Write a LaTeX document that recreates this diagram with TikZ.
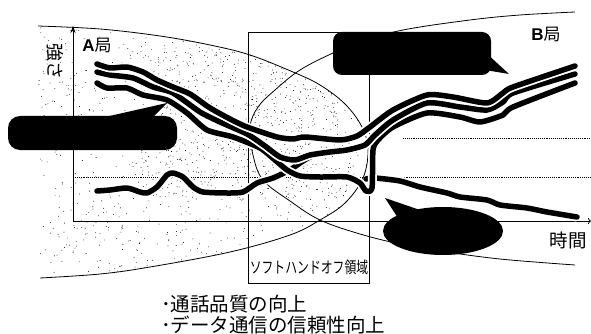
\documentclass[tikz,border=0pt]{standalone}
\usepackage{fontspec}
\setmainfont{Liberation Sans}
\newfontfamily\cjk{Noto Sans CJK JP}
\usetikzlibrary{arrows.meta}
\begin{document}
\begin{tikzpicture}[x=1pt,y=-1pt,
  bound/.style={line width=0.8pt},
  sig/.style={line width=5.5pt, line cap=round, line join=round,
    preaction={draw=white, line width=9pt}},
  blob/.style={fill=black},
  lbl/.style={inner sep=0pt}]
\useasboundingbox (0,0) rectangle (591,334);
% stipple in coverage area of A
\begin{scope}
\clip plot[smooth,tension=0.6] coordinates {(38,26) (100,29) (160,36) (210,45) (250,55) (293,72) (320,85) (345,104) (362,127) (368,150) (363,178) (345,203) (320,220) (290,235) (230,252) (150,267) (100,274) (40,278)} -- cycle;
\pgfmathsetseed{4711}
\foreach \i in {1,...,950}{\fill ({38+330*rnd},{26+252*rnd}) circle[radius=0.45pt];}
\foreach \i in {1,...,700}{\fill ({140+200*rnd},{40+160*rnd}) circle[radius=0.45pt];}
\end{scope}
% coverage boundaries
\draw[bound] plot[smooth,tension=0.6] coordinates {(38,26) (100,29) (160,36) (210,45) (250,55) (293,72) (320,85) (345,104) (362,127) (368,150) (363,178) (345,203) (320,220) (290,235) (230,252) (150,267) (100,274) (40,278)};
\draw[bound] plot[smooth,tension=0.6] coordinates {(575,12) (520,15) (470,20) (403,30) (360,42) (333,53) (300,70) (275,90) (258,107) (250,127) (253,155) (263,180) (290,201) (320,220) (360,234) (400,244) (440,251) (500,259) (575,265)};
% soft handoff box
\draw[bound] (248,32) rectangle (369,283);
\node[lbl] (sho) at (309,267) {\cjk\fontsize{16}{16}\selectfont\scalebox{0.74}[1]{ソフトハンドオフ領域}};
% axes
\coordinate (O) at (73,221);
\coordinate (ytop) at (73,26);
\coordinate (xend) at (591,221);
\draw[bound,-{Stealth[length=7pt,width=5pt]}] (O) -- (ytop);
\draw[bound,-{To[length=3pt,width=6pt]}] (O) -- (xend);
% threshold lines
\coordinate (d1s) at (73,177);
\coordinate (d1e) at (591,177);
\coordinate (d2s) at (403,138);
\coordinate (d2e) at (591,138);
\draw[line width=0.9pt,densely dotted] (d1s) -- (d1e);
\draw[line width=0.9pt,densely dotted] (d2s) -- (d2e);
% signal traces
\draw[sig] plot[smooth,tension=0.4] coordinates {(97,191) (110,190) (127,188) (140,192) (147,193) (157,187) (167,175) (173,173) (183,177) (193,187) (203,192) (227,193) (243,192) (257,183) (273,178) (290,170) (300,163) (312,156) (330,152)};
\draw[sig] plot[smooth,tension=0.4] coordinates {(366,179) (375,178) (400,181) (420,187) (447,193) (460,197) (487,200) (500,205) (527,208) (547,212) (577,217)};
\draw[sig] plot[smooth,tension=0.4] coordinates {(97,83) (107,88) (127,88) (143,95) (167,100) (187,113) (207,130) (233,137) (260,148) (275,160) (287,170) (300,176) (320,177) (347,177) (360,183) (366,191) (372,188) (373,150) (378,140) (393,127) (427,113) (460,117) (480,122) (503,115) (513,107) (575,83)};
\draw[sig] plot[smooth,tension=0.4] coordinates {(97,72) (110,75) (133,78) (153,87) (173,93) (200,112) (220,122) (247,134) (265,146) (280,157) (295,160) (310,155) (330,152) (347,150) (365,145) (375,135) (393,120) (427,103) (460,107) (487,110) (503,102) (513,93) (575,74)};
\draw[sig] plot[smooth,tension=0.4] coordinates {(97,64) (110,68) (127,67) (143,72) (157,80) (173,87) (190,94) (207,106) (217,112) (232,120) (247,127) (277,137) (293,139) (305,137) (340,140) (357,136) (370,127) (393,110) (427,95) (453,97) (487,103) (503,93) (513,87) (575,66)};
% callouts
\fill[blob,rounded corners=12pt] (8,116) rectangle (177,150);
\fill[blob] (105,117) -- (167,103) -- (150,120) -- cycle;
\fill[blob,rounded corners=9pt] (333,32) rectangle (491,75);
\fill[blob] (485,52) -- (509,74) -- (485,70) -- cycle;
\fill[blob] (443,231) ellipse[x radius=60, y radius=24];
\fill[blob] (398,218) -- (385,198) -- (420,210) -- cycle;
% labels
\node[lbl,rotate=-90] (ylab) at (55,62) {\cjk\fontsize{18}{18}\selectfont 強さ};
\node[lbl] (alab) at (97,45) {\fontsize{17}{17}\selectfont\textbf{A}{\cjk 局}};
\node[lbl] (blab) at (546,34) {\fontsize{17}{17}\selectfont\textbf{B}{\cjk 局}};
\node[lbl] (tlab) at (568,240) {\cjk\fontsize{18.5}{18.5}\selectfont 時間};
\node[lbl,anchor=west] (q1) at (161,304) {\cjk\fontsize{19.5}{19.5}\selectfont ･通話品質の向上};
\node[lbl,anchor=west] (q2) at (161,325) {\cjk\fontsize{19.5}{19.5}\selectfont ･データ通信の信頼性向上};
\end{tikzpicture}
\end{document}
